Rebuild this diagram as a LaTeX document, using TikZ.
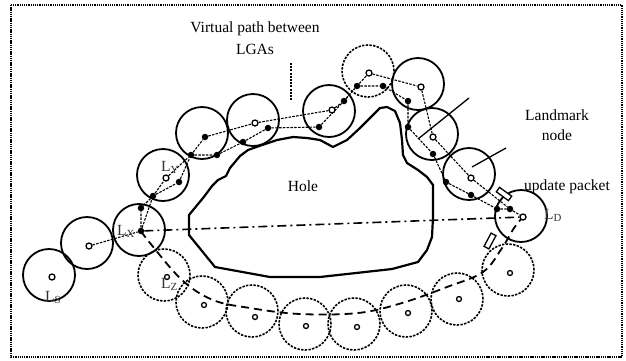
\documentclass[tikz,border=0pt]{standalone}
\usepackage{fontspec}
\setmainfont{Liberation Serif}
\pgfdeclarelayer{back}
\pgfsetlayers{back,main}
\tikzset{
  zone/.style={circle, draw, line width=1.8pt, minimum size=52pt, inner sep=0pt},
  dzone/.style={zone, line width=1.6pt, dash pattern=on 2.4pt off 1.3pt},
  lm/.style={circle, draw, fill=white, line width=1.3pt, minimum size=6pt, inner sep=0pt},
  sm/.style={lm, minimum size=5pt},
  hop/.style={circle, fill=black, minimum size=6.5pt, inner sep=0pt},
  link/.style={line width=1.1pt, dash pattern=on 2.5pt off 1.3pt},
  route/.style={line width=1.8pt, dash pattern=on 8pt off 5pt},
  direct/.style={line width=1.6pt, dash pattern=on 9pt off 4pt on 2pt off 4pt},
  pointer/.style={line width=1.3pt},
  lbl/.style={font=\fontsize{15.5}{19}\selectfont, inner sep=0pt, anchor=base},
  sub/.style={lbl, anchor=base west, text=black!80},
  pkt/.style={draw, fill=white, line width=1.3pt, minimum width=15pt, minimum height=5.5pt, inner sep=0pt},
}
\begin{document}
\begin{tikzpicture}[x=1pt,y=-1pt]
\useasboundingbox (0,0) rectangle (626,360);
\draw[line width=2pt, dash pattern=on 1.3pt off 0.9pt] (11,5) rectangle (622,357);

% communication zones along the upper side of the hole
\node[zone] (c1) at (49,275) {};
\node[zone] (c2) at (87,243) {};
\node[zone] (c3) at (139,230) {};
\node[zone] (c4) at (163,175) {};
\node[zone] (c5) at (202,133) {};
\node[zone] (c6) at (253,120) {};
\node[zone] (c7) at (329,111) {};
\node[dzone] (c8) at (368,71) {};
\node[zone] (c9) at (418,84) {};
\node[zone] (c10) at (432,134) {};
\node[zone] (c11) at (469,174) {};
\node[zone] (c12) at (521,216) {};

% zones along the lower side
\node[dzone] (d1) at (164,275) {};
\node[dzone] (d2) at (202,302) {};
\node[dzone] (d3) at (252,311) {};
\node[dzone] (d4) at (305,324) {};
\node[dzone] (d5) at (354,324) {};
\node[dzone] (d6) at (406,311) {};
\node[dzone] (d7) at (457,299) {};
\node[dzone] (d8) at (508,270) {};

% the hole
\draw[line width=2.2pt, line join=round]
  (189,235) -- (189,215) -- (203,198) -- (212,186) -- (218,180) -- (226,176)
  -- (230,168) -- (235,162) -- (240,156) -- (248,150) -- (262,145) -- (277,140)
  -- (293,137) -- (307,138) -- (320,140) -- (333,147) -- (347,140) -- (360,128)
  -- (370,118) -- (380,108) -- (387,107) -- (395,111) -- (400,123) -- (402,140)
  -- (403,155) -- (407,163) -- (418,170) -- (427,177) -- (433,185) -- (433,217)
  -- (432,237) -- (427,250) -- (418,262) -- (392,269) -- (320,277) -- (270,277)
  -- (215,267) -- cycle;

% landmark nodes
\node[lm] (Ls) at (52,277) {};
\node[lm] (n2) at (89,246) {};
\node[hop] (Lx) at (141,231) {};
\node[lm] (Ly) at (166,178) {};
\node[hop] (p5) at (205,137) {};
\node[lm] (v6) at (255,123) {};
\node[lm] (v7) at (332,110) {};
\node[lm] (v8) at (369,73) {};
\node[lm] (v9) at (421,87) {};
\node[lm] (v10) at (433,137) {};
\node[lm] (v11) at (471,178) {};
\node[lm] (LD) at (523,217) {};

% relay nodes along the hole boundary
\node[hop] (f1) at (141,208) {};
\node[hop] (f2) at (153,196) {};
\node[hop] (f3) at (179,182) {};
\node[hop] (f4) at (191,155) {};
\node[hop] (f5) at (217,155) {};
\node[hop] (f6) at (243,142) {};
\node[hop] (f7) at (268,128) {};
\node[hop] (f8) at (319,127) {};
\node[hop] (f9) at (344,101) {};
\node[hop] (f10) at (357,86) {};
\node[hop] (f11) at (383,86) {};
\node[hop] (f12) at (408,101) {};
\node[hop] (f13) at (408,127) {};
\node[hop] (f14) at (433,154) {};
\node[hop] (f15) at (446,182) {};
\node[hop] (f16) at (471,195) {};
\node[hop] (f17) at (497,209) {};
\node[hop] (f18) at (510,209) {};

% nodes of the lower zones
\node[sm] (s1) at (167,277) {};
\node[sm] (s2) at (204,305) {};
\node[sm] (s3) at (255,317) {};
\node[sm] (s4) at (306,326) {};
\node[sm] (s5) at (357,327) {};
\node[sm] (s6) at (408,313) {};
\node[sm] (s7) at (459,299) {};
\node[sm] (s8) at (510,273) {};

\begin{pgfonlayer}{back}
  % virtual path between landmarks
  \draw[link] (n2) -- (Lx);
  \draw[link] (Lx) -- (f2) -- (Ly) -- (f4) -- (p5) -- (v6) -- (v7) -- (f9)
    -- (f10) -- (v8) -- (v9) -- (v10) -- (v11) -- (f18) -- (LD);
  % route hugging the hole
  \draw[link] (Lx) -- (f1) -- (f2) -- (f3) -- (f4) -- (f5) -- (f6) -- (f7)
    -- (f8) -- (f9) -- (f10) -- (f11) -- (f12) -- (f13) -- (f14) -- (f15)
    -- (f16) -- (f17) -- (f18);
  % direct line across the hole
  \draw[direct] (Lx) -- (LD);
  % route along the lower side
  \draw[route] plot[smooth, tension=0.6] coordinates {(Lx.center) (150,243)
    (182,280) (213,300) (250,308) (300,314) (358,313) (402,303) (447,287)
    (483,272) (502,248) (514,228) (LD.center)};
\end{pgfonlayer}

% update packets
\node[pkt, rotate=-36] (pk1) at (504,194) {};
\node[pkt, rotate=62] (pk2) at (490,241) {};

% labels
\node[lbl, align=center, font=\fontsize{15.5}{22}\selectfont] (tv) at (255,54)
  {Virtual path between\\LGAs};
\node[lbl, align=center, font=\fontsize{15.5}{19.5}\selectfont] (tl) at (557,140)
  {Landmark\\node};
\node[lbl] (th) at (303,191) {Hole};
\node[lbl] (tu) at (567,190) {update packet};
\node[sub] (tLs) at (45,301) {L\textsubscript{S}};
\node[sub] (tLx) at (117,235) {L\textsubscript{X}};
\node[sub] (tLy) at (161,171) {L\textsubscript{Y}};
\node[sub] (tLz) at (161,288) {L\textsubscript{Z}};
\node[sub] (tLd) at (544,219) {L\textsubscript{D}};

% pointers of the labels
\coordinate (vpa) at (291,63);
\coordinate (vpb) at (291,100);
\draw[line width=1.2pt, dash pattern=on 2pt off 1.2pt] (vpa) -- (vpb);
\coordinate (lma) at (469,98);
\coordinate (lmb) at (418,139);
\coordinate (lmc) at (506,148);
\coordinate (lmd) at (472,167);
\draw[pointer] (lma) -- (lmb);
\draw[pointer] (lmc) -- (lmd);
\end{tikzpicture}
\end{document}
